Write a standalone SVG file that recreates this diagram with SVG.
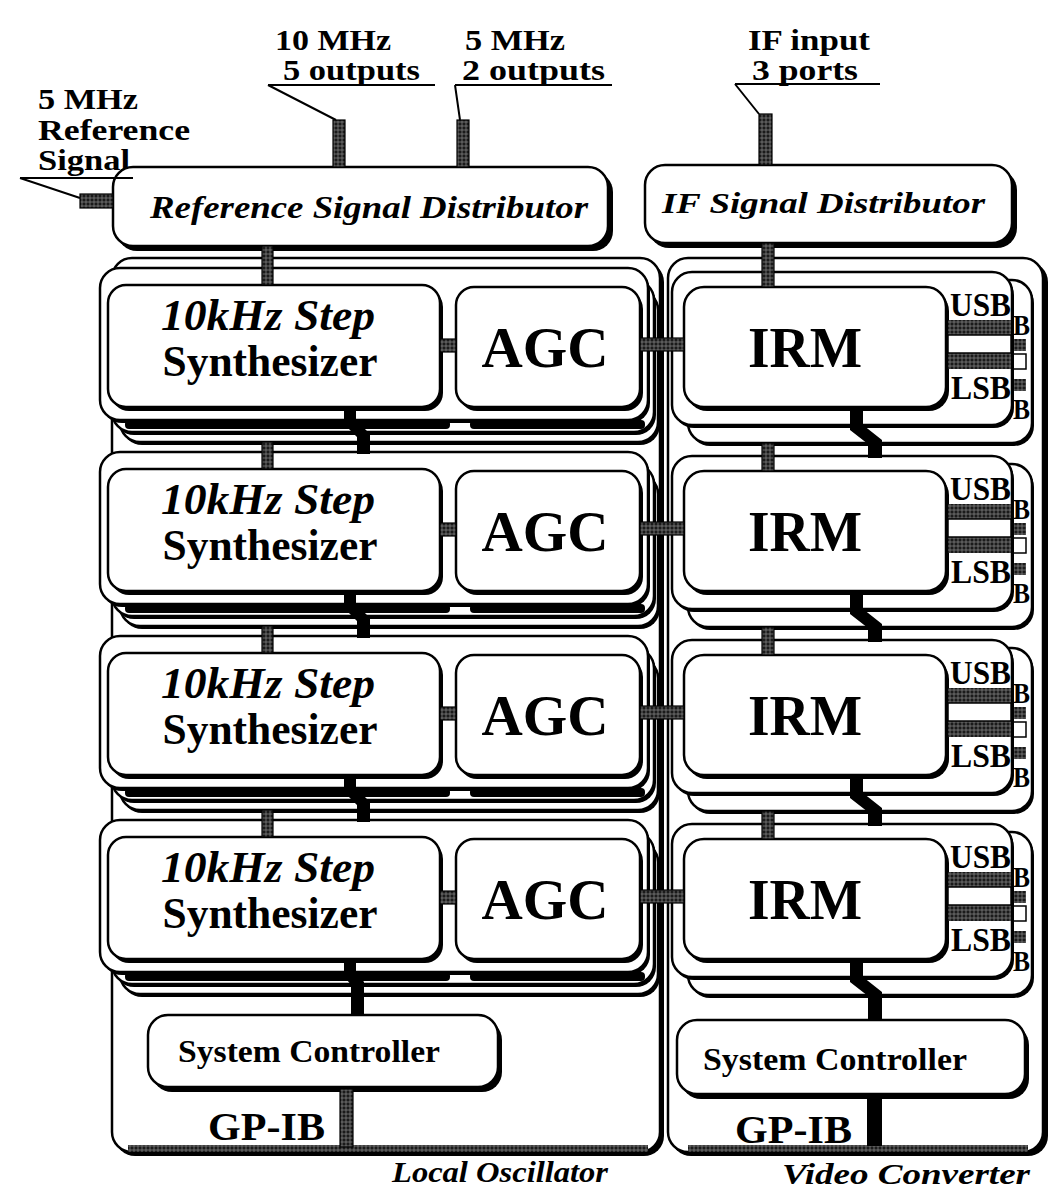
<svg xmlns="http://www.w3.org/2000/svg" width="1051" height="1189" viewBox="0 0 1051 1189">
<defs>
<pattern id="hatch" width="4" height="4" patternUnits="userSpaceOnUse">
<rect width="4" height="4" fill="#1a1a1a"/>
<path d="M0,2 h4 M2,0 v4" stroke="#8a8a8a" stroke-width="0.7"/>
</pattern>
</defs>
<style>
.b{fill:#fff;stroke:#000;stroke-width:2.5}
.s{fill:#000}
.h{fill:url(#hatch);stroke:#000;stroke-width:1.2}
.hs{fill:url(#hatch)}
.k{fill:#000}
.ln{stroke:#000;stroke-width:2;fill:none}
.w{fill:#fff;stroke:#000;stroke-width:1.5}
text{font-family:"Liberation Serif","Times New Roman",serif;font-weight:bold;fill:#000}
.i{font-style:italic}
.lab{font-size:29px}
.big{font-size:44px}
.huge{font-size:56px}
.sb{font-size:30px}
.ul{font-size:34px}
</style>
<rect width="1051" height="1189" fill="#fff"/>

<g id="labels">
<text class="lab" x="275" y="50" textLength="116" lengthAdjust="spacingAndGlyphs">10 MHz</text>
<text class="lab" x="283" y="80" textLength="137" lengthAdjust="spacingAndGlyphs">5 outputs</text>
<text class="lab" x="465" y="50" textLength="100" lengthAdjust="spacingAndGlyphs">5 MHz</text>
<text class="lab" x="462" y="80" textLength="143" lengthAdjust="spacingAndGlyphs">2 outputs</text>
<text class="lab" x="38" y="109" textLength="100" lengthAdjust="spacingAndGlyphs">5 MHz</text>
<text class="lab" x="38" y="140" textLength="152" lengthAdjust="spacingAndGlyphs">Reference</text>
<text class="lab" x="38" y="170" textLength="92" lengthAdjust="spacingAndGlyphs">Signal</text>
<text class="lab" x="748" y="50" textLength="122" lengthAdjust="spacingAndGlyphs">IF input</text>
<text class="lab" x="752" y="80" textLength="106" lengthAdjust="spacingAndGlyphs">3 ports</text>
<text class="lab i" x="392" y="1182" font-size="30" textLength="216" lengthAdjust="spacingAndGlyphs">Local Oscillator</text>
<text class="lab i" x="782" y="1184" font-size="30" textLength="248" lengthAdjust="spacingAndGlyphs">Video Converter</text>
</g>

<g id="lo-container">
<rect class="s" x="115" y="262" width="549" height="894" rx="20"/>
<rect class="b" x="112" y="258" width="548" height="894" rx="20"/>
<rect class="hs" x="128" y="1145" width="520" height="7"/>
</g>
<g id="vc-container">
<rect class="s" x="671" y="262" width="377" height="894" rx="20"/>
<rect class="b" x="668" y="258" width="375" height="894" rx="20"/>
<rect class="hs" x="688" y="1145" width="340" height="7"/>
</g>

<g id="ref-dist">
<rect class="s" x="117" y="172" width="496" height="79" rx="20"/>
<rect class="b" x="113" y="167" width="495" height="79" rx="20"/>
<text class="i" x="150" y="218" font-size="32" textLength="438" lengthAdjust="spacingAndGlyphs">Reference Signal Distributor</text>
</g>
<g id="if-dist">
<rect class="s" x="649" y="170" width="368" height="78" rx="20"/>
<rect class="b" x="645" y="165" width="367" height="78" rx="20"/>
<text class="i" x="662" y="213" font-size="30" textLength="323" lengthAdjust="spacingAndGlyphs">IF Signal Distributor</text>
</g>

<g id="lo-row1">
<rect class="s" x="122" y="293" width="538" height="152" rx="20"/><rect class="b" x="120" y="290" width="538" height="152" rx="20"/>
<rect class="s" x="114" y="283" width="542" height="152" rx="20"/><rect class="b" x="112" y="280" width="542" height="152" rx="20"/>
<rect class="k" x="125" y="420" width="325" height="9" rx="4"/><rect class="k" x="470" y="420" width="175" height="9" rx="4"/>
<rect class="s" x="102" y="271" width="548" height="152" rx="20"/><rect class="b" x="100" y="268" width="548" height="152" rx="20"/>
<rect class="s" x="111" y="289" width="332" height="122" rx="18"/><rect class="b" x="108" y="285" width="332" height="122" rx="18"/>
<rect class="s" x="459" y="291" width="184" height="120" rx="18"/><rect class="b" x="456" y="287" width="184" height="120" rx="18"/>
<text class="big i" x="268" y="330" text-anchor="middle" textLength="214" lengthAdjust="spacingAndGlyphs">10kHz Step</text>
<text class="big" x="270" y="376" text-anchor="middle" textLength="215" lengthAdjust="spacingAndGlyphs">Synthesizer</text>
<text class="huge" x="545" y="367" text-anchor="middle" textLength="127" lengthAdjust="spacingAndGlyphs">AGC</text>
</g>
<g id="lo-row2">
<rect class="s" x="122" y="477" width="538" height="152" rx="20"/><rect class="b" x="120" y="474" width="538" height="152" rx="20"/>
<rect class="s" x="114" y="467" width="542" height="152" rx="20"/><rect class="b" x="112" y="464" width="542" height="152" rx="20"/>
<rect class="k" x="125" y="604" width="325" height="9" rx="4"/><rect class="k" x="470" y="604" width="175" height="9" rx="4"/>
<rect class="s" x="102" y="455" width="548" height="152" rx="20"/><rect class="b" x="100" y="452" width="548" height="152" rx="20"/>
<rect class="s" x="111" y="473" width="332" height="122" rx="18"/><rect class="b" x="108" y="469" width="332" height="122" rx="18"/>
<rect class="s" x="459" y="475" width="184" height="120" rx="18"/><rect class="b" x="456" y="471" width="184" height="120" rx="18"/>
<text class="big i" x="268" y="514" text-anchor="middle" textLength="214" lengthAdjust="spacingAndGlyphs">10kHz Step</text>
<text class="big" x="270" y="560" text-anchor="middle" textLength="215" lengthAdjust="spacingAndGlyphs">Synthesizer</text>
<text class="huge" x="545" y="551" text-anchor="middle" textLength="127" lengthAdjust="spacingAndGlyphs">AGC</text>
</g>
<g id="lo-row3">
<rect class="s" x="122" y="661" width="538" height="152" rx="20"/><rect class="b" x="120" y="658" width="538" height="152" rx="20"/>
<rect class="s" x="114" y="651" width="542" height="152" rx="20"/><rect class="b" x="112" y="648" width="542" height="152" rx="20"/>
<rect class="k" x="125" y="788" width="325" height="9" rx="4"/><rect class="k" x="470" y="788" width="175" height="9" rx="4"/>
<rect class="s" x="102" y="639" width="548" height="152" rx="20"/><rect class="b" x="100" y="636" width="548" height="152" rx="20"/>
<rect class="s" x="111" y="657" width="332" height="122" rx="18"/><rect class="b" x="108" y="653" width="332" height="122" rx="18"/>
<rect class="s" x="459" y="659" width="184" height="120" rx="18"/><rect class="b" x="456" y="655" width="184" height="120" rx="18"/>
<text class="big i" x="268" y="698" text-anchor="middle" textLength="214" lengthAdjust="spacingAndGlyphs">10kHz Step</text>
<text class="big" x="270" y="744" text-anchor="middle" textLength="215" lengthAdjust="spacingAndGlyphs">Synthesizer</text>
<text class="huge" x="545" y="735" text-anchor="middle" textLength="127" lengthAdjust="spacingAndGlyphs">AGC</text>
</g>
<g id="lo-row4">
<rect class="s" x="122" y="845" width="538" height="152" rx="20"/><rect class="b" x="120" y="842" width="538" height="152" rx="20"/>
<rect class="s" x="114" y="835" width="542" height="152" rx="20"/><rect class="b" x="112" y="832" width="542" height="152" rx="20"/>
<rect class="k" x="125" y="972" width="325" height="9" rx="4"/><rect class="k" x="470" y="972" width="175" height="9" rx="4"/>
<rect class="s" x="102" y="823" width="548" height="152" rx="20"/><rect class="b" x="100" y="820" width="548" height="152" rx="20"/>
<rect class="s" x="111" y="841" width="332" height="122" rx="18"/><rect class="b" x="108" y="837" width="332" height="122" rx="18"/>
<rect class="s" x="459" y="843" width="184" height="120" rx="18"/><rect class="b" x="456" y="839" width="184" height="120" rx="18"/>
<text class="big i" x="268" y="882" text-anchor="middle" textLength="214" lengthAdjust="spacingAndGlyphs">10kHz Step</text>
<text class="big" x="270" y="928" text-anchor="middle" textLength="215" lengthAdjust="spacingAndGlyphs">Synthesizer</text>
<text class="huge" x="545" y="919" text-anchor="middle" textLength="127" lengthAdjust="spacingAndGlyphs">AGC</text>
</g>

<g id="vc-row1">
<rect class="s" x="690" y="283" width="344" height="163" rx="20"/><rect class="b" x="688" y="280" width="344" height="163" rx="20"/>
<text class="sb" x="1013" y="335" textLength="17" lengthAdjust="spacingAndGlyphs">B</text>
<rect class="hs" x="1013" y="339" width="13" height="12"/><rect class="w" x="1013" y="354" width="13" height="15"/><rect class="hs" x="1013" y="379" width="13" height="12"/>
<text class="sb" x="1013" y="419" textLength="17" lengthAdjust="spacingAndGlyphs">B</text>
<rect class="s" x="674" y="275" width="340" height="153" rx="20"/><rect class="b" x="672" y="272" width="340" height="153" rx="20"/>
<rect class="s" x="687" y="291" width="262" height="120" rx="20"/><rect class="b" x="684" y="287" width="262" height="120" rx="20"/>
<text class="huge" x="805" y="367" text-anchor="middle" textLength="114" lengthAdjust="spacingAndGlyphs">IRM</text>
<text class="ul" x="1011" y="316" text-anchor="end" textLength="61" lengthAdjust="spacingAndGlyphs">USB</text>
<rect class="hs" x="948" y="320" width="63" height="49"/><rect class="w" x="948" y="335" width="63" height="18"/>
<text class="ul" x="1011" y="399" text-anchor="end" textLength="60" lengthAdjust="spacingAndGlyphs">LSB</text>
</g>
<g id="vc-row2">
<rect class="s" x="690" y="467" width="344" height="163" rx="20"/><rect class="b" x="688" y="464" width="344" height="163" rx="20"/>
<text class="sb" x="1013" y="519" textLength="17" lengthAdjust="spacingAndGlyphs">B</text>
<rect class="hs" x="1013" y="523" width="13" height="12"/><rect class="w" x="1013" y="538" width="13" height="15"/><rect class="hs" x="1013" y="563" width="13" height="12"/>
<text class="sb" x="1013" y="603" textLength="17" lengthAdjust="spacingAndGlyphs">B</text>
<rect class="s" x="674" y="459" width="340" height="153" rx="20"/><rect class="b" x="672" y="456" width="340" height="153" rx="20"/>
<rect class="s" x="687" y="475" width="262" height="120" rx="20"/><rect class="b" x="684" y="471" width="262" height="120" rx="20"/>
<text class="huge" x="805" y="551" text-anchor="middle" textLength="114" lengthAdjust="spacingAndGlyphs">IRM</text>
<text class="ul" x="1011" y="500" text-anchor="end" textLength="61" lengthAdjust="spacingAndGlyphs">USB</text>
<rect class="hs" x="948" y="504" width="63" height="49"/><rect class="w" x="948" y="519" width="63" height="18"/>
<text class="ul" x="1011" y="583" text-anchor="end" textLength="60" lengthAdjust="spacingAndGlyphs">LSB</text>
</g>
<g id="vc-row3">
<rect class="s" x="690" y="651" width="344" height="163" rx="20"/><rect class="b" x="688" y="648" width="344" height="163" rx="20"/>
<text class="sb" x="1013" y="703" textLength="17" lengthAdjust="spacingAndGlyphs">B</text>
<rect class="hs" x="1013" y="707" width="13" height="12"/><rect class="w" x="1013" y="722" width="13" height="15"/><rect class="hs" x="1013" y="747" width="13" height="12"/>
<text class="sb" x="1013" y="787" textLength="17" lengthAdjust="spacingAndGlyphs">B</text>
<rect class="s" x="674" y="643" width="340" height="153" rx="20"/><rect class="b" x="672" y="640" width="340" height="153" rx="20"/>
<rect class="s" x="687" y="659" width="262" height="120" rx="20"/><rect class="b" x="684" y="655" width="262" height="120" rx="20"/>
<text class="huge" x="805" y="735" text-anchor="middle" textLength="114" lengthAdjust="spacingAndGlyphs">IRM</text>
<text class="ul" x="1011" y="684" text-anchor="end" textLength="61" lengthAdjust="spacingAndGlyphs">USB</text>
<rect class="hs" x="948" y="688" width="63" height="49"/><rect class="w" x="948" y="703" width="63" height="18"/>
<text class="ul" x="1011" y="767" text-anchor="end" textLength="60" lengthAdjust="spacingAndGlyphs">LSB</text>
</g>
<g id="vc-row4">
<rect class="s" x="690" y="835" width="344" height="163" rx="20"/><rect class="b" x="688" y="832" width="344" height="163" rx="20"/>
<text class="sb" x="1013" y="887" textLength="17" lengthAdjust="spacingAndGlyphs">B</text>
<rect class="hs" x="1013" y="891" width="13" height="12"/><rect class="w" x="1013" y="906" width="13" height="15"/><rect class="hs" x="1013" y="931" width="13" height="12"/>
<text class="sb" x="1013" y="971" textLength="17" lengthAdjust="spacingAndGlyphs">B</text>
<rect class="s" x="674" y="827" width="340" height="153" rx="20"/><rect class="b" x="672" y="824" width="340" height="153" rx="20"/>
<rect class="s" x="687" y="843" width="262" height="120" rx="20"/><rect class="b" x="684" y="839" width="262" height="120" rx="20"/>
<text class="huge" x="805" y="919" text-anchor="middle" textLength="114" lengthAdjust="spacingAndGlyphs">IRM</text>
<text class="ul" x="1011" y="868" text-anchor="end" textLength="61" lengthAdjust="spacingAndGlyphs">USB</text>
<rect class="hs" x="948" y="872" width="63" height="49"/><rect class="w" x="948" y="887" width="63" height="18"/>
<text class="ul" x="1011" y="951" text-anchor="end" textLength="60" lengthAdjust="spacingAndGlyphs">LSB</text>
</g>

<g id="lo-controller">
<rect class="s" x="152" y="1020" width="350" height="72" rx="20"/>
<rect class="b" x="148" y="1015" width="350" height="72" rx="20"/>
<text x="309" y="1062" font-size="32" text-anchor="middle" textLength="262" lengthAdjust="spacingAndGlyphs">System Controller</text>
<text x="208" y="1140" font-size="40" textLength="117" lengthAdjust="spacingAndGlyphs">GP-IB</text>
</g>
<g id="vc-controller">
<rect class="s" x="681" y="1025" width="348" height="74" rx="20"/>
<rect class="b" x="677" y="1020" width="348" height="74" rx="20"/>
<text x="835" y="1070" font-size="32" text-anchor="middle" textLength="264" lengthAdjust="spacingAndGlyphs">System Controller</text>
<text x="735" y="1143" font-size="40" textLength="117" lengthAdjust="spacingAndGlyphs">GP-IB</text>
</g>

<g id="connectors">
<path class="ln" d="M268,85 H435 M268,85 L336,120"/>
<path class="ln" d="M455,85 H612 M455,85 L460,120"/>
<path class="ln" d="M20,178 H133 M20,178 L80,198"/>
<path class="ln" d="M735,84 H880 M735,84 L759,114"/>
<rect class="h" x="333" y="120" width="12" height="47"/>
<rect class="h" x="457" y="120" width="12" height="47"/>
<rect class="h" x="80" y="194" width="33" height="14"/>
<rect class="h" x="759" y="114" width="13" height="51"/>
<rect class="h" x="262" y="246" width="11" height="39"/>
<rect class="h" x="262" y="442" width="11" height="27"/>
<rect class="h" x="262" y="626" width="11" height="27"/>
<rect class="h" x="262" y="810" width="11" height="27"/>
<rect class="h" x="762" y="243" width="12" height="44"/>
<rect class="h" x="762" y="443" width="12" height="28"/>
<rect class="h" x="762" y="627" width="12" height="28"/>
<rect class="h" x="762" y="811" width="12" height="28"/>
<rect class="h" x="440" y="339" width="16" height="13"/>
<rect class="h" x="640" y="338" width="44" height="13"/>
<rect class="h" x="440" y="523" width="16" height="13"/>
<rect class="h" x="640" y="522" width="44" height="13"/>
<rect class="h" x="440" y="707" width="16" height="13"/>
<rect class="h" x="640" y="706" width="44" height="13"/>
<rect class="h" x="440" y="891" width="16" height="13"/>
<rect class="h" x="640" y="890" width="44" height="13"/>
<polygon class="k" points="344,409 356,409 356,420 370,434 370,454 357,454 357,437 344,424"/>
<polygon class="k" points="344,593 356,593 356,604 370,618 370,638 357,638 357,621 344,608"/>
<polygon class="k" points="344,777 356,777 356,788 370,802 370,822 357,822 357,805 344,792"/>
<polygon class="k" points="344,961 356,961 356,972 364,982 364,1015 351,1015 351,985 344,976"/>
<polygon class="k" points="850,409 863,409 863,425 882,440 882,458 868,458 868,444 850,430"/>
<polygon class="k" points="850,593 863,593 863,609 882,624 882,642 868,642 868,628 850,614"/>
<polygon class="k" points="850,777 863,777 863,793 882,808 882,826 868,826 868,812 850,798"/>
<polygon class="k" points="850,961 863,961 863,977 882,992 882,1020 868,1020 868,996 850,982"/>
<rect class="h" x="340" y="1089" width="13" height="58"/>
<rect class="k" x="867" y="1096" width="15" height="50"/>
</g>
</svg>
